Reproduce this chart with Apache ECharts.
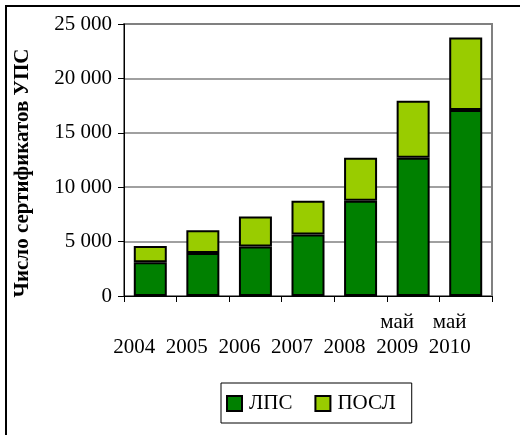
<!DOCTYPE html>
<html>
<head>
<meta charset="utf-8">
<script src="https://cdn.jsdelivr.net/npm/echarts@6/dist/echarts.min.js"></script>
<style>
  html, body { margin: 0; padding: 0; background: #fff; }
  #chart { width: 520px; height: 435px; }
</style>
</head>
<body>
<div id="chart"></div>
<script>
// Certificates issued per year, stacked by type
const years = ['2004', '2005', '2006', '2007', '2008', '2009', '2010'];
const months = ['', '', '', '', '', 'май', 'май'];
const lpsValues = [3100, 3950, 4550, 5650, 8750, 12700, 17100];
const poslValues = [1500, 2100, 2750, 3100, 3950, 5250, 6650];
const seriesNames = ['ЛПС', 'ПОСЛ'];
const yTicks = [0, 5000, 10000, 15000, 20000, 25000];

const FONT = "'Liberation Serif', 'Times New Roman', serif";

const chart = echarts.init(document.getElementById('chart'), null, { renderer: 'canvas' });

const fmtThousands = v => String(v).replace(/\B(?=(\d{3})+(?!\d))/g, ' ');

chart.setOption({
  animation: false,
  backgroundColor: '#ffffff',
  textStyle: { fontFamily: FONT, color: '#000' },
  grid: {
    left: 124, top: 24, right: 28, bottom: 139,
    show: true, borderColor: '#808080', borderWidth: 2, backgroundColor: 'transparent'
  },
  legend: {
    data: seriesNames,
    left: 221, top: 383,
    padding: [10, 16, 9, 5],
    itemGap: 22,
    itemWidth: 15, itemHeight: 15,
    icon: 'rect',
    borderColor: '#000', borderWidth: 1,
    textStyle: { fontFamily: FONT, fontSize: 21, color: '#000', padding: [0, 0, 0, 2] }
  },
  xAxis: {
    type: 'category',
    data: years,
    axisLine: { lineStyle: { color: '#000', width: 1 } },
    axisTick: { show: true, length: 6, lineStyle: { color: '#000' } },
    axisLabel: {
      interval: 0,
      margin: 14,
      fontFamily: FONT, fontSize: 21, color: '#000',
      lineHeight: 25,
      padding: [0, 32, 0, 0],
      formatter: (v, i) => (months[i] || ' ') + '\n' + v
    }
  },
  yAxis: {
    type: 'value',
    min: yTicks[0], max: yTicks[yTicks.length - 1], interval: 5000,
    name: 'Число сертификатов УПС',
    nameLocation: 'middle',
    nameGap: 91,
    nameTextStyle: {
      fontFamily: FONT, fontSize: 21, fontWeight: 'bold', color: '#000',
      padding: [0, 26, 0, 0]
    },
    axisLine: { show: true, lineStyle: { color: '#000', width: 1 } },
    axisTick: { show: true, length: 6, lineStyle: { color: '#000' } },
    axisLabel: { margin: 12, fontFamily: FONT, fontSize: 21, color: '#000', formatter: fmtThousands },
    splitLine: { lineStyle: { color: '#808080', width: 1.5 } }
  },
  series: [
    {
      name: seriesNames[0], type: 'bar', stack: 'total', data: lpsValues,
      barWidth: 33,
      itemStyle: { color: '#008000', borderColor: '#000', borderWidth: 2 }
    },
    {
      name: seriesNames[1], type: 'bar', stack: 'total', data: poslValues,
      barWidth: 33,
      itemStyle: { color: '#99cc00', borderColor: '#000', borderWidth: 2 }
    }
  ],
  graphic: [
    { type: 'line', shape: { x1: 5, y1: 6, x2: 520, y2: 6 }, style: { stroke: '#000', lineWidth: 2 } },
    { type: 'line', shape: { x1: 6, y1: 5, x2: 6, y2: 435 }, style: { stroke: '#000', lineWidth: 2 } }
  ]
});
</script>
</body>
</html>
